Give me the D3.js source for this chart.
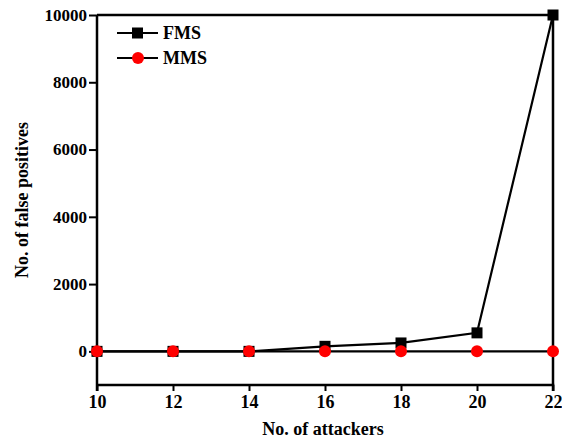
<!DOCTYPE html>
<html>
<head>
<meta charset="utf-8">
<script src="https://cdn.jsdelivr.net/npm/d3@7"></script>
<style>
  html, body { margin: 0; padding: 0; background: #fff; }
  svg { display: block; }
</style>
</head>
<body>
<svg id="chart" width="562" height="443"></svg>
<script>
// Number of attackers on the x axis
const attackers = [10, 12, 14, 16, 18, 20, 22];
// False positives for each scheme
const fmsValues = [0, 0, 0, 150, 250, 550, 10000];
const mmsValues = [0, 0, 0, 0, 0, 0, 0];
const xTicks = [10, 12, 14, 16, 18, 20, 22];
const yTicks = [0, 2000, 4000, 6000, 8000, 10000];
const seriesNames = ["FMS", "MMS"];

const FONT = "Liberation Serif";

const svg = d3.select("#chart");
const plotLeft = 97, plotRight = 553, plotTop = 15, plotBottom = 385;

const x = d3.scaleLinear().domain([10, 22]).range([plotLeft, plotRight]);
const y = d3.scaleLinear().domain([-1000, 10000]).range([plotBottom, plotTop]);

// Shared text styling: bold serif, black
function serif(sel, size) {
  return sel.attr("font-family", FONT).attr("font-weight", "bold")
    .attr("font-size", size).attr("fill", "#000")
    .style("font-family", FONT).style("font-weight", "bold").style("font-size", size + "px");
}

// Frame (top and right edges)
svg.append("path")
  .attr("d", `M${plotLeft},${plotTop}H${plotRight}V${plotBottom}`)
  .attr("fill", "none").attr("stroke", "#000").attr("stroke-width", 2.5);

// Axes
const xAxis = svg.append("g").attr("transform", `translate(0,${plotBottom})`)
  .call(d3.axisBottom(x).tickValues(xTicks).tickSize(6).tickPadding(4).tickFormat(d3.format("d")));
const yAxis = svg.append("g").attr("transform", `translate(${plotLeft},0)`)
  .call(d3.axisLeft(y).tickValues(yTicks).tickSize(8).tickPadding(2).tickFormat(d3.format("d")));

[xAxis, yAxis].forEach(g => {
  g.attr("font-family", null).attr("font-size", null);
  g.select(".domain").attr("stroke-width", 2.5);
  g.selectAll(".tick line").attr("stroke-width", 2);
});
serif(xAxis.selectAll(".tick text"), 18);
serif(yAxis.selectAll(".tick text"), 17);
xAxis.select(".domain").attr("d", `M${plotLeft},0H${plotRight}V6`);
yAxis.select(".domain").attr("d", `M0,${plotTop}V${plotBottom + 6}`);

// Axis titles
serif(svg.append("text"), 18).attr("x", (plotLeft + plotRight) / 2 - 2).attr("y", 435)
  .attr("text-anchor", "middle").text("No. of attackers");
serif(svg.append("text"), 18)
  .attr("transform", `translate(28,200) rotate(-90)`)
  .attr("text-anchor", "middle").text("No. of false positives");

const line = d3.line().x((d, i) => x(attackers[i])).y(d => y(d));

// FMS
svg.append("path").datum(fmsValues).attr("d", line)
  .attr("fill", "none").attr("stroke", "#000").attr("stroke-width", 2.2);
svg.selectAll(".fms").data(fmsValues).enter().append("rect")
  .attr("x", (d, i) => x(attackers[i]) - 5.5).attr("y", d => y(d) - 5.5)
  .attr("width", 11).attr("height", 11).attr("fill", "#000");

// MMS
svg.append("path").datum(mmsValues).attr("d", line)
  .attr("fill", "none").attr("stroke", "#000").attr("stroke-width", 2.2);
svg.selectAll(".mms").data(mmsValues).enter().append("circle")
  .attr("cx", (d, i) => x(attackers[i])).attr("cy", d => y(d))
  .attr("r", 6).attr("fill", "#ff0000");

// Legend
const legend = svg.append("g");
seriesNames.forEach((name, i) => {
  const ly = 33 + i * 25;
  legend.append("line").attr("x1", 117).attr("x2", 158).attr("y1", ly).attr("y2", ly)
    .attr("stroke", "#000").attr("stroke-width", 2.2);
  if (i === 0) {
    legend.append("rect").attr("x", 132).attr("y", ly - 5.5).attr("width", 11).attr("height", 11).attr("fill", "#000");
  } else {
    legend.append("circle").attr("cx", 138).attr("cy", ly).attr("r", 6).attr("fill", "#ff0000");
  }
  serif(legend.append("text"), 18).attr("x", 163).attr("y", ly + 6).text(name);
});
</script>
</body>
</html>
